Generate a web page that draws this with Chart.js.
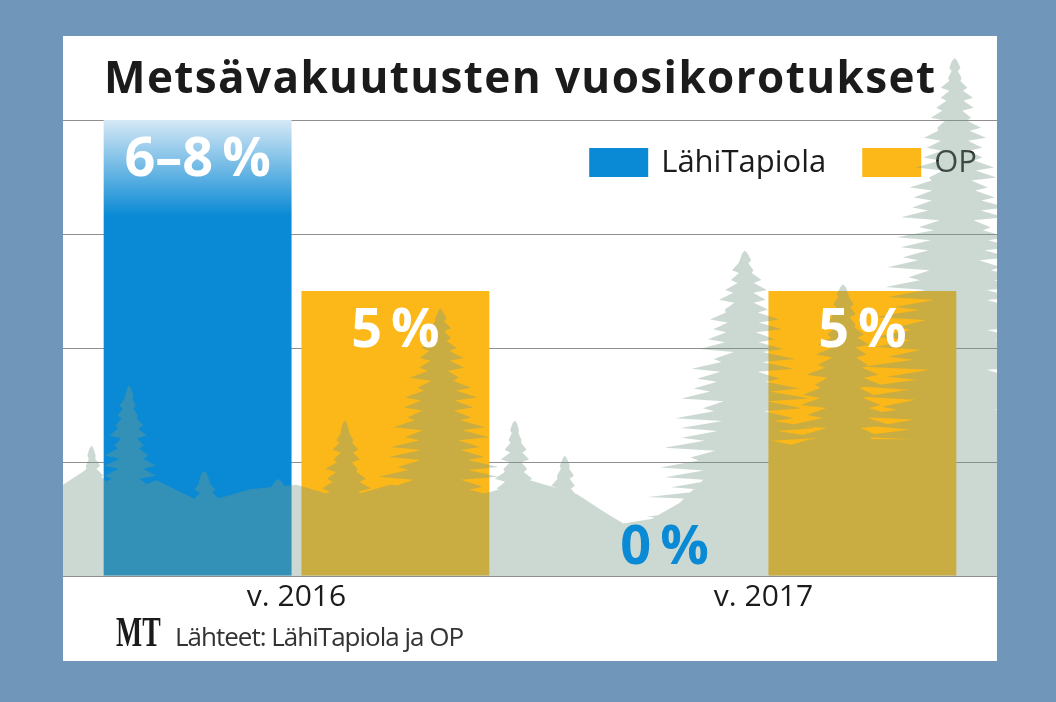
<!DOCTYPE html>
<html><head><meta charset="utf-8">
<script src="https://cdn.jsdelivr.net/npm/chart.js@4.4.1/dist/chart.umd.min.js"></script>
<style>
html,body{margin:0;padding:0;}
body{width:1056px;height:702px;background:#7097b9;position:relative;overflow:hidden;font-family:"Open Sans",sans-serif;}
#panel{position:absolute;left:63px;top:36px;width:934px;height:625px;background:#fff;overflow:hidden;}
#chart{position:absolute;left:0;top:0;}
#title{position:absolute;left:41px;top:18px;margin:0;font:700 44px/44px "Open Sans",sans-serif;letter-spacing:1.4px;color:#1b1b1b;white-space:nowrap;z-index:2;}
#mt{position:absolute;left:53px;top:575px;font:700 42px/42px "Liberation Serif",serif;color:#1b1b1b;transform:scaleX(0.66);transform-origin:0 0;white-space:nowrap;}
#src{position:absolute;left:112px;top:587px;font:400 26px/26px "Open Sans",sans-serif;letter-spacing:-1px;color:#333;white-space:nowrap;}
</style></head>
<body>
<div id="panel">
  <canvas id="chart" width="934" height="625"></canvas>
  <h1 id="title">Metsävakuutusten vuosikorotukset</h1>
  <div id="mt">MT</div>
  <div id="src">Lähteet: LähiTapiola ja OP</div>
</div>
<script>
// ---- data ----
const categories = ['v. 2016', 'v. 2017'];
const seriesNames = ['LähiTapiola', 'OP'];
const lahiTapiolaValues = [8, 0];
const opValues = [5, 5];
const lahiTapiolaLabels = ['6–8\u2009%', '0\u2009%'];
const opLabels = ['5\u2009%', '5\u2009%'];
const yTicks = [0, 2, 4, 6, 8];

// ---- styles ----
const BLUE = '#0a8ad4';
const YELLOW = '#fbb818';
const seriesColors = [BLUE, YELLOW];
const valueLabelSets = [lahiTapiolaLabels, opLabels];

function blueFill(ctx) {
  const chart = ctx.chart;
  const a = chart.chartArea;
  if (!a) return BLUE;
  const g = chart.ctx.createLinearGradient(0, a.top, 0, a.bottom);
  g.addColorStop(0, '#d6e8f6');
  g.addColorStop(0.21, BLUE);
  g.addColorStop(1, BLUE);
  return g;
}

// decorative forest silhouette (fractions of the plot area)
const trees = [
  [0.031, 0.714, 0.041], [0.070, 0.582, 0.059], [0.152, 0.769, 0.048],
  [0.230, 0.787, 0.054], [0.302, 0.659, 0.054], [0.404, 0.413, 0.096],
  [0.484, 0.659, 0.048], [0.537, 0.736, 0.043], [0.730, 0.286, 0.130],
  [0.835, 0.360, 0.100], [0.955, -0.136, 0.150]
];
const groundProfile = [
  [0, 0.80], [0.03, 0.76], [0.06, 0.82], [0.10, 0.79], [0.15, 0.84], [0.20, 0.81],
  [0.25, 0.80], [0.30, 0.83], [0.35, 0.80], [0.45, 0.82], [0.50, 0.79], [0.55, 0.82],
  [0.58, 0.86], [0.60, 0.885], [0.63, 0.875], [0.66, 0.84], [0.70, 0.76], [0.80, 0.70],
  [1, 0.70]
];

function addSpruce(ctx, cx, top, base, hw, seed) {
  const h = base - top;
  const n = Math.max(8, Math.round(h / 10));
  const right = [], left = [];
  for (let k = 1; k <= n; k++) {
    const t = k / n;
    const y = top + h * t;
    const env = hw * Math.pow(t, 0.8);
    const w = env * (0.6 + 0.4 * Math.abs(Math.sin(seed + k * 2.3)));
    const w2 = env * (0.6 + 0.4 * Math.abs(Math.cos(seed * 1.3 + k * 1.9)));
    const i1 = 0.35 + 0.2 * Math.abs(Math.sin(seed * 0.7 + k * 3.1));
    const i2 = 0.35 + 0.2 * Math.abs(Math.cos(seed * 0.9 + k * 2.7));
    right.push([cx + w * i1, y - h / n * 0.7], [cx + w, y]);
    left.push([cx - w2 * i2, y - h / n * 0.7], [cx - w2, y]);
  }
  ctx.moveTo(cx, top);
  right.forEach(p => ctx.lineTo(p[0], p[1]));
  ctx.lineTo(cx + hw * 0.8, base);
  ctx.lineTo(cx - hw * 0.8, base);
  for (let i = left.length - 1; i >= 0; i--) ctx.lineTo(left[i][0], left[i][1]);
  ctx.closePath();
}

const legendPlugin = {
  id: 'customLegend',
  beforeDatasetsDraw(chart) {
    const ctx = chart.ctx;
    const a = chart.chartArea;
    ctx.save();
    ctx.font = '400 31px "Open Sans", sans-serif';
    ctx.textBaseline = 'middle';
    ctx.textAlign = 'left';
    const boxW = 59, boxH = 29, gap = 13, itemGap = 36;
    const boxTop = a.top + 28;
    let x = a.right - 20;
    for (let i = chart.data.datasets.length - 1; i >= 0; i--) {
      const txt = chart.data.datasets[i].label;
      const tw = ctx.measureText(txt).width;
      const tx = x - tw;
      const bx = tx - gap - boxW;
      ctx.fillStyle = seriesColors[i];
      ctx.fillRect(bx, boxTop, boxW, boxH);
      ctx.fillStyle = '#1b1b1b';
      ctx.fillText(txt, tx, boxTop + boxH / 2 + 1);
      x = bx - itemGap;
    }
    ctx.restore();
  }
};

const decoPlugin = {
  id: 'deco',
  afterDatasetsDraw(chart) {
    const ctx = chart.ctx;
    const a = chart.chartArea;
    const W = a.right - a.left, H = a.bottom - a.top;
    ctx.save();
    ctx.beginPath();
    ctx.moveTo(a.left, a.bottom);
    groundProfile.forEach(p => ctx.lineTo(a.left + p[0] * W, a.top + p[1] * H));
    ctx.lineTo(a.right, a.bottom);
    ctx.closePath();
    trees.forEach((t, i) => addSpruce(ctx, a.left + t[0] * W, a.top + t[1] * H, a.bottom, t[2] * W, i * 1.7 + 0.5));
    ctx.fillStyle = 'rgba(120,153,135,0.375)';
    ctx.fill('nonzero');
    ctx.restore();

    // value labels
    ctx.save();
    ctx.textAlign = 'center';
    ctx.textBaseline = 'alphabetic';
    ctx.font = '700 54px "Open Sans", sans-serif';
    chart.data.datasets.forEach((ds, di) => {
      const meta = chart.getDatasetMeta(di);
      meta.data.forEach((bar, j) => {
        const txt = valueLabelSets[di][j];
        if (ds.data[j] === 0) {
          ctx.fillStyle = seriesColors[di];
          ctx.fillText(txt, bar.x, bar.base - 12);
        } else {
          ctx.fillStyle = '#ffffff';
          ctx.fillText(txt, bar.x, bar.y + 56);
        }
      });
    });
    ctx.restore();
  }
};

new Chart(document.getElementById('chart'), {
  type: 'bar',
  data: {
    labels: categories,
    datasets: [
      { label: seriesNames[0], data: lahiTapiolaValues, backgroundColor: blueFill, borderWidth: 0 },
      { label: seriesNames[1], data: opValues, backgroundColor: YELLOW, borderWidth: 0 }
    ]
  },
  options: {
    responsive: false,
    animation: false,
    events: [],
    categoryPercentage: 0.847,
    barPercentage: 0.95,
    layout: { padding: { top: 84, left: 0, right: 0, bottom: 43 } },
    plugins: {
      title: { display: false },
      tooltip: { enabled: false },
      legend: { display: false }
    },
    scales: {
      x: {
        grid: { display: false, drawTicks: false },
        border: { display: false },
        ticks: { color: '#1b1b1b', padding: 3, font: { family: 'Open Sans', size: 30, lineHeight: 1.2 } }
      },
      y: {
        min: yTicks[0],
        max: yTicks[yTicks.length - 1],
        afterBuildTicks: axis => { axis.ticks = yTicks.map(v => ({ value: v })); },
        grid: { color: '#8f8f8f', lineWidth: 1, drawTicks: false },
        border: { display: false },
        ticks: { display: false }
      }
    }
  },
  plugins: [legendPlugin, decoPlugin]
});
</script>
</body></html>
